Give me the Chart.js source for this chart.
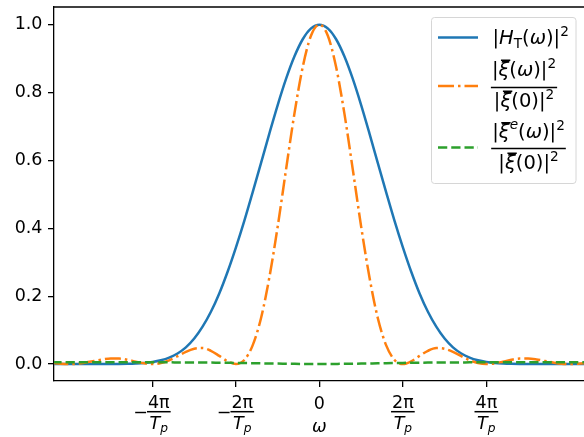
<!DOCTYPE html>
<html>
<head>
<meta charset="utf-8">
<script src="https://cdn.jsdelivr.net/npm/chart.js@4.4.1/dist/chart.umd.min.js"></script>
<style>
  html, body { margin: 0; padding: 0; background: #fff; }
  canvas { display: block; }
</style>
</head>
<body>
<canvas id="myChart" width="584" height="437"></canvas>
<script>
// omega in units of 2*pi/Tp
var omega = [-3.2, -3.1, -3.0, -2.9, -2.8, -2.7, -2.6, -2.5, -2.4, -2.3, -2.2, -2.1, -2.0, -1.9, -1.8, -1.7,
    -1.6, -1.5, -1.4, -1.3, -1.2, -1.1, -1.0, -0.9, -0.8, -0.7, -0.6, -0.5, -0.4, -0.3, -0.2, -0.1,
    0.0, 0.1, 0.2, 0.3, 0.4, 0.5, 0.6, 0.7, 0.8, 0.9, 1.0, 1.1, 1.2, 1.3, 1.4, 1.5,
    1.6, 1.7, 1.8, 1.9, 2.0, 2.1, 2.2, 2.3, 2.4, 2.5, 2.6, 2.7, 2.8, 2.9, 3.0, 3.1, 3.2];

// |H_T(w)|^2
var hT = [0, 0, 0, 0, 0, 0, 0, 0.0001, 0.0003, 0.0007, 0.0015, 0.003, 0.006, 0.011, 0.019, 0.031,
    0.049, 0.075, 0.110, 0.154, 0.208, 0.272, 0.344, 0.422, 0.506, 0.592, 0.679, 0.763, 0.840, 0.906, 0.957, 0.989,
    1.000, 0.989, 0.957, 0.906, 0.840, 0.763, 0.679, 0.592, 0.506, 0.422, 0.344, 0.272, 0.208, 0.154, 0.110, 0.075,
    0.049, 0.031, 0.019, 0.011, 0.006, 0.003, 0.0015, 0.0007, 0.0003, 0.0001, 0, 0, 0, 0, 0, 0, 0];

// |xi(w)|^2 / |xi(0)|^2
var xiNorm = [0.0035, 0.001, 0, 0.001, 0.0045, 0.009, 0.0135, 0.016, 0.016, 0.0125, 0.007, 0.002, 0, 0.003, 0.011, 0.023,
    0.036, 0.045, 0.047, 0.039, 0.024, 0.008, 0, 0.012, 0.055, 0.135, 0.255, 0.405, 0.573, 0.737, 0.875, 0.968,
    1.000, 0.968, 0.875, 0.737, 0.573, 0.405, 0.255, 0.135, 0.055, 0.012, 0, 0.008, 0.024, 0.039, 0.047, 0.045,
    0.036, 0.023, 0.011, 0.003, 0, 0.002, 0.007, 0.0125, 0.016, 0.016, 0.0135, 0.009, 0.0045, 0.001, 0, 0.001, 0.0035];

// |xi^e(w)|^2 / |xi(0)|^2
var xiENorm = [0.005, 0.005, 0.005, 0.005, 0.005, 0.005, 0.005, 0.005, 0.005, 0.005, 0.005, 0.005, 0.005, 0.0049, 0.0049, 0.0048,
    0.0047, 0.0046, 0.0044, 0.0042, 0.0039, 0.0036, 0.0033, 0.0029, 0.0025, 0.0020, 0.0016, 0.0012, 0.0009, 0.0006, 0.0004, 0.0003,
    0.0003, 0.0003, 0.0004, 0.0006, 0.0009, 0.0012, 0.0016, 0.0020, 0.0025, 0.0029, 0.0033, 0.0036, 0.0039, 0.0042, 0.0044, 0.0046,
    0.0047, 0.0048, 0.0049, 0.0049, 0.005, 0.005, 0.005, 0.005, 0.005, 0.005, 0.005, 0.005, 0.005, 0.005, 0.005, 0.005, 0.005];

var xTicks = [-2, -1, 0, 1, 2];
var xTickLabels = ['−4π/Tp', '−2π/Tp', '0', '2π/Tp', '4π/Tp'];
var yTicks = [0, 0.2, 0.4, 0.6, 0.8, 1.0];
var yTickLabels = ['0.0', '0.2', '0.4', '0.6', '0.8', '1.0'];

var BLUE = '#1f77b4', ORANGE = '#ff7f0e', GREEN = '#2ca02c';
var FAM = '"DejaVu Sans", sans-serif';
var DASHDOT = [16, 4, 2.5, 4];
var DASHED = [9.25, 4];

Chart.defaults.font.family = 'DejaVu Sans';

function pts(ys) {
    return omega.map(function (w, i) { return { x: w, y: ys[i] }; });
}

// small mathtext helpers
function fontOf(p, base) {
    return (p.i ? 'italic ' : '') + (p.s ? base * 0.7 : base) + 'px ' + FAM;
}
function measureParts(ctx, parts, base) {
    var w = 0;
    parts.forEach(function (p) { ctx.font = fontOf(p, base); w += ctx.measureText(p.t).width; });
    return w;
}
function drawParts(ctx, parts, x, y, base) {
    parts.forEach(function (p) {
        ctx.font = fontOf(p, base);
        ctx.fillText(p.t, x, y + (p.dy || 0));
        var w = ctx.measureText(p.t).width;
        if (p.bar) ctx.fillRect(x + 2.5, y - base * 0.82, w - 1.5, 1.5);
        x += w;
    });
}
function drawFrac(ctx, num, den, cx, barY, base, gapN, gapD) {
    var wn = measureParts(ctx, num, base), wd = measureParts(ctx, den, base);
    var bw = Math.max(wn, wd) + 2;
    ctx.fillRect(cx - bw / 2, barY - 0.75, bw, 1.5);
    drawParts(ctx, num, cx - wn / 2, barY - gapN, base);
    drawParts(ctx, den, cx - wd / 2, barY + gapD, base);
    return bw;
}

var annotations = {
    id: 'annotations',
    afterDraw: function (chart) {
        var ctx = chart.ctx, area = chart.chartArea;
        var xs = chart.scales.x;
        ctx.save();
        ctx.fillStyle = '#000';
        ctx.strokeStyle = '#000';
        ctx.textBaseline = 'alphabetic';
        ctx.textAlign = 'left';

        // top spine
        ctx.lineWidth = 1.3;
        ctx.beginPath();
        ctx.moveTo(area.left - 0.65, area.top);
        ctx.lineTo(area.right, area.top);
        ctx.stroke();

        // x tick labels
        var tb = 17.5;
        xTicks.forEach(function (v, i) {
            var lab = xTickLabels[i];
            var px = xs.getPixelForValue(v);
            if (lab.indexOf('/') < 0) {
                ctx.font = tb + 'px ' + FAM;
                ctx.textAlign = 'center';
                ctx.fillText(lab, px, 408.5);
                ctx.textAlign = 'left';
                return;
            }
            var neg = lab.charAt(0) === '−';
            var bits = lab.replace('−', '').split('/');
            var num = [{ t: bits[0] }];
            var den = [{ t: bits[1].charAt(0), i: 1 }, { t: bits[1].substring(1), i: 1, s: 1, dy: 3.5 }];
            var wn = measureParts(ctx, num, tb), wd = measureParts(ctx, den, tb);
            var bw = Math.max(wn, wd) + 2;
            ctx.font = tb + 'px ' + FAM;
            var mw = neg ? ctx.measureText('−').width - 2 : 0;
            var left = px - (mw + bw) / 2;
            if (neg) ctx.fillText('−', left - 1, 418);
            drawFrac(ctx, num, den, left + mw + bw / 2, 411.7, tb, 3.5, 17);
        });

        // x axis label
        ctx.font = 'italic ' + tb + 'px ' + FAM;
        ctx.textAlign = 'center';
        ctx.fillText('ω', xs.getPixelForValue(0), 431.5);
        ctx.textAlign = 'left';

        // legend box
        var lx = area.right - 152.5, ly = area.top + 10.5, lw = 144.5, lh = 166;
        ctx.beginPath();
        ctx.roundRect(lx, ly, lw, lh, 3);
        ctx.fillStyle = 'rgba(255,255,255,0.8)';
        ctx.fill();
        ctx.lineWidth = 1;
        ctx.strokeStyle = '#d6d6d6';
        ctx.stroke();

        // legend handles
        var handles = [[BLUE, [], ly + 20], [ORANGE, DASHDOT, ly + 68.5], [GREEN, DASHED, ly + 130]];
        ctx.lineWidth = 2.5;
        handles.forEach(function (h) {
            ctx.strokeStyle = h[0];
            ctx.setLineDash(h[1]);
            ctx.beginPath();
            ctx.moveTo(lx + 6.5, h[2]);
            ctx.lineTo(lx + 46.5, h[2]);
            ctx.stroke();
        });
        ctx.setLineDash([]);
        ctx.fillStyle = '#000';

        // legend labels
        var lb = 19.5;
        var pipe = { t: '|' }, xi = { t: 'ξ', i: 1, bar: 1 }, sq = { t: '2', s: 1, dy: -8 };
        drawParts(ctx, [pipe, { t: 'H', i: 1 }, { t: 'T', s: 1, dy: 4 }, { t: '(' }, { t: 'ω', i: 1 }, { t: ')|' }, sq],
            lx + 61, ly + 26, lb);
        var den = [pipe, xi, { t: '(0)|' }, sq];
        drawFrac(ctx, [pipe, xi, { t: '(' }, { t: 'ω', i: 1 }, { t: ')|' }, sq], den,
            lx + 92.5, ly + 70, lb, 12, 19);
        drawFrac(ctx, [pipe, xi, { t: 'e', i: 1, s: 1, dy: -9 }, { t: '(' }, { t: 'ω', i: 1 }, { t: ')|' }, sq], den,
            lx + 97, ly + 131, lb, 10.5, 20);
        ctx.restore();
    }
};

var ctx = document.getElementById('myChart').getContext('2d');
var myChart = new Chart(ctx, {
    type: 'line',
    data: {
        datasets: [{
            label: '|H_T(ω)|²',
            data: pts(hT),
            borderColor: BLUE,
            borderWidth: 2.5,
            pointRadius: 0,
            cubicInterpolationMode: 'monotone',
            order: 2
        },
        {
            label: '|ξ(ω)|²/|ξ(0)|²',
            data: pts(xiNorm),
            borderColor: ORANGE,
            borderWidth: 2.5,
            borderDash: DASHDOT,
            pointRadius: 0,
            cubicInterpolationMode: 'monotone',
            order: 1
        },
        {
            label: '|ξe(ω)|²/|ξ(0)|²',
            data: pts(xiENorm),
            borderColor: GREEN,
            borderWidth: 2.5,
            borderDash: DASHED,
            pointRadius: 0,
            cubicInterpolationMode: 'monotone',
            order: 0
        }]
    },
    options: {
        responsive: false,
        animation: false,
        layout: { padding: { top: 7, left: 0, right: 0, bottom: 0 } },
        plugins: { legend: { display: false }, tooltip: { enabled: false } },
        scales: {
            x: {
                type: 'linear',
                min: -3.18,
                max: 3.17,
                afterBuildTicks: function (s) { s.ticks = xTicks.map(function (v) { return { value: v }; }); },
                ticks: { display: false },
                grid: { drawOnChartArea: false, drawTicks: true, tickLength: 6, color: '#000', lineWidth: 1.3 },
                border: { display: true, color: '#000', width: 1.3 },
                afterFit: function (s) { s.height = 56; s.paddingLeft = 0; s.paddingRight = 0; }
            },
            y: {
                min: -0.05,
                max: 1.052,
                afterBuildTicks: function (s) { s.ticks = yTicks.map(function (v) { return { value: v }; }); },
                ticks: {
                    color: '#000',
                    font: { family: 'DejaVu Sans', size: 17.5 },
                    padding: 5.5,
                    callback: function (v, i) { return yTickLabels[i]; }
                },
                grid: { drawOnChartArea: false, drawTicks: true, tickLength: 6, color: '#000', lineWidth: 1.3 },
                border: { display: true, color: '#000', width: 1.3 },
                afterFit: function (s) { s.width = 54; s.paddingTop = 0; s.paddingBottom = 0; }
            }
        }
    },
    plugins: [annotations]
});
</script>
</body>
</html>
